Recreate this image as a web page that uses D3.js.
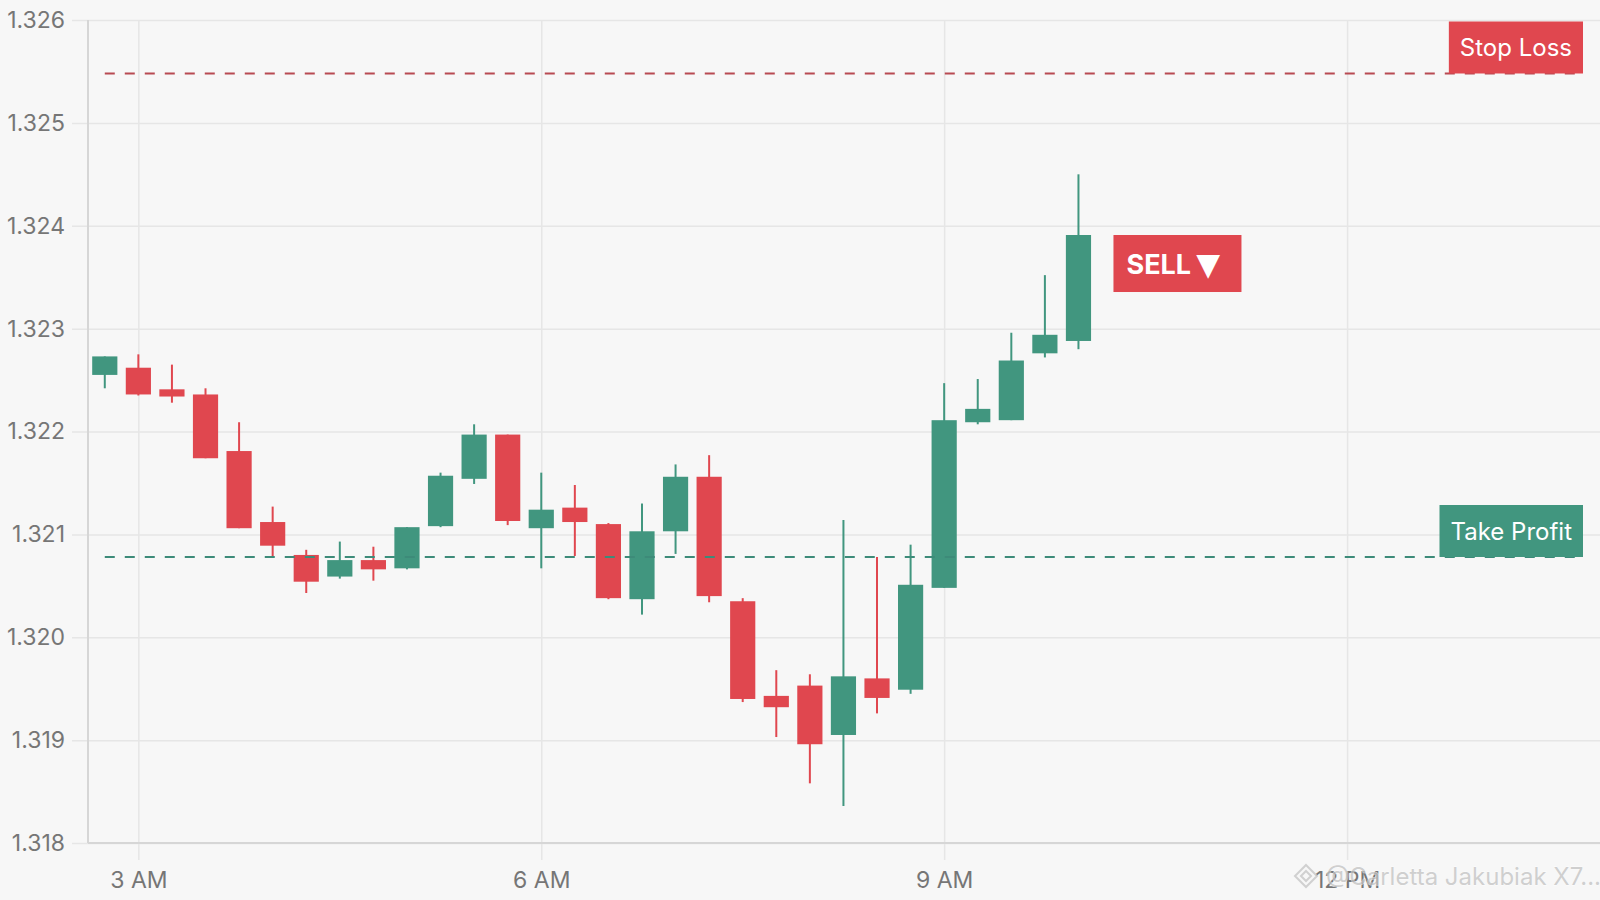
<!DOCTYPE html>
<html>
<head>
<meta charset="utf-8">
<script src="https://cdn.jsdelivr.net/npm/d3@7"></script>
<style>
  html, body { margin: 0; padding: 0; background: #f7f7f7; }
  svg { display: block; }
  text { font-family: Inter, "Noto Sans", "DejaVu Sans", sans-serif; }
</style>
</head>
<body>
<svg id="chart" width="1600" height="900"></svg>
<script>
// ---- data ----
const times  = ["02:45","03:00","03:15","03:30","03:45","04:00","04:15","04:30","04:45","05:00",
                "05:15","05:30","05:45","06:00","06:15","06:30","06:45","07:00","07:15","07:30",
                "07:45","08:00","08:15","08:30","08:45","09:00","09:15","09:30","09:45","10:00"];
const opens  = [1.32255,1.32262,1.32241,1.32236,1.32181,1.32112,1.32080,1.32059,1.32075,1.32067,
                1.32108,1.32154,1.32197,1.32106,1.32126,1.32110,1.32037,1.32103,1.32156,1.32035,
                1.31943,1.31953,1.31905,1.31960,1.31949,1.32048,1.32209,1.32211,1.32276,1.32288];
const highs  = [1.32273,1.32275,1.32265,1.32242,1.32209,1.32127,1.32085,1.32093,1.32088,1.32107,
                1.32160,1.32207,1.32197,1.32160,1.32148,1.32111,1.32130,1.32168,1.32177,1.32038,
                1.31968,1.31964,1.32114,1.32078,1.32090,1.32247,1.32251,1.32296,1.32352,1.32450];
const lows   = [1.32242,1.32235,1.32228,1.32174,1.32106,1.32078,1.32043,1.32057,1.32055,1.32066,
                1.32107,1.32149,1.32109,1.32067,1.32079,1.32037,1.32022,1.32081,1.32034,1.31937,
                1.31903,1.31858,1.31836,1.31926,1.31945,1.32048,1.32207,1.32211,1.32272,1.32280];
const closes = [1.32273,1.32236,1.32234,1.32174,1.32106,1.32089,1.32054,1.32075,1.32066,1.32107,
                1.32157,1.32197,1.32113,1.32124,1.32112,1.32038,1.32103,1.32156,1.32040,1.31940,
                1.31932,1.31896,1.31962,1.31941,1.32051,1.32211,1.32222,1.32269,1.32294,1.32391];
const yTicks = [1.318,1.319,1.320,1.321,1.322,1.323,1.324,1.325,1.326];
const stopLoss = 1.32548;
const takeProfit = 1.32078;
const labels = { stop: "Stop Loss", take: "Take Profit", signal: "SELL", arrow: "▼" };
const watermark = "@Carletta Jakubiak X7...";

// ---- setup ----
const W = 1600, H = 900;
const margin = { left: 88, right: 0, top: 20, bottom: 57 };
const green = "#41967f", red = "#e0474f";
const gridColor = "#e6e6e6", axisColor = "#d6d6d6", labelColor = "#767676";

const parse = d3.timeParse("%Y-%m-%d %H:%M:%S");
const candles = times.map((t, i) => ({
  t: parse("2024-01-01 " + t + ":00"), o: opens[i], h: highs[i], l: lows[i], c: closes[i]
}));

const x = d3.scaleTime()
  .domain([parse("2024-01-01 02:37:30"), parse("2024-01-01 13:53:00")])
  .range([margin.left, W - margin.right]);
const y = d3.scaleLinear().domain([1.318, 1.326]).range([H - margin.bottom, margin.top]);

const svg = d3.select("#chart");
svg.append("rect").attr("width", W).attr("height", H).attr("fill", "#f7f7f7");

// horizontal gridlines + y ticks
const yAxis = d3.axisLeft(y).tickValues(yTicks).tickFormat(d3.format(".3f"))
  .tickSize(-(W - margin.left)).tickSizeOuter(0).tickPadding(7);
const gy = svg.append("g").attr("transform", `translate(${margin.left},0)`).call(yAxis);
gy.select(".domain").remove();
gy.selectAll(".tick line").attr("stroke", gridColor).attr("stroke-width", 1.5).attr("x1", -16);
gy.selectAll(".tick text").attr("fill", labelColor).attr("font-size", 23).attr("x", -23)
  .attr("font-family", "Inter, sans-serif");

// vertical gridlines + x ticks
const xAxis = d3.axisBottom(x).ticks(d3.timeHour.every(3)).tickFormat(d3.timeFormat("%-I %p"))
  .tickSize(-(H - margin.bottom - margin.top)).tickSizeOuter(0).tickPadding(12);
const gx = svg.append("g").attr("transform", `translate(0,${H - margin.bottom})`).call(xAxis);
gx.select(".domain").remove();
gx.selectAll(".tick line").attr("stroke", gridColor).attr("stroke-width", 1.5).attr("y2", 17)
  .attr("y1", -(H - margin.bottom - margin.top));
gx.selectAll(".tick text").attr("fill", labelColor).attr("font-size", 23).attr("y", 29)
  .attr("font-family", "Inter, sans-serif");

// axis lines
svg.append("line").attr("x1", margin.left).attr("x2", margin.left)
  .attr("y1", margin.top).attr("y2", H - margin.bottom)
  .attr("stroke", axisColor).attr("stroke-width", 2);
svg.append("line").attr("x1", margin.left).attr("x2", W)
  .attr("y1", H - margin.bottom).attr("y2", H - margin.bottom)
  .attr("stroke", axisColor).attr("stroke-width", 2);

// candles
const step = x(candles[1].t) - x(candles[0].t);
const bw = step * 0.75;
const cg = svg.append("g");
const cs = cg.selectAll("g.c").data(candles).join("g").attr("class", "c");
cs.append("line")
  .attr("x1", d => x(d.t)).attr("x2", d => x(d.t))
  .attr("y1", d => y(d.h)).attr("y2", d => y(d.l))
  .attr("stroke", d => d.c >= d.o ? green : red).attr("stroke-width", 2);
cs.append("rect")
  .attr("x", d => x(d.t) - bw / 2).attr("width", bw)
  .attr("y", d => y(Math.max(d.o, d.c)))
  .attr("height", d => Math.max(1, Math.abs(y(d.o) - y(d.c))))
  .attr("fill", d => d.c >= d.o ? green : red);

// level lines + labels
const lineStart = x(candles[0].t);
const boxRight = W - 17;
function level(val, color, lineColor, text) {
  const yy = y(val);
  svg.append("line").attr("x1", lineStart).attr("x2", boxRight)
    .attr("y1", yy).attr("y2", yy).attr("stroke", lineColor).attr("stroke-width", 2)
    .attr("stroke-dasharray", "10,10");
  const t = svg.append("text").text(text).attr("font-size", 24).attr("fill", "#fff")
    .attr("text-anchor", "middle");
  const tw = t.node().getComputedTextLength();
  const bwid = tw + 22, bh = 52;
  svg.insert("rect", () => t.node())
    .attr("x", boxRight - bwid).attr("y", yy - bh).attr("width", bwid).attr("height", bh)
    .attr("fill", color);
  t.attr("x", boxRight - bwid / 2).attr("y", yy - bh / 2 + 8.5);
}
level(stopLoss, "#e0474f", "#b84a52", labels.stop);
level(takeProfit, "#41967f", "#3d8b79", labels.take);

// SELL signal near last candle
const last = candles[candles.length - 1];
const sx = x(last.t) + 35, sy = y(last.c);
svg.append("rect").attr("x", sx).attr("y", sy).attr("width", 128).attr("height", 57)
  .attr("fill", "#e0474f");
const st = svg.append("text").attr("x", sx + 13).attr("y", sy + 39)
  .attr("font-size", 27).attr("font-weight", 700).attr("fill", "#fff");
st.append("tspan").text(labels.signal);
st.append("tspan").text(" ").attr("font-size", 22);
st.append("tspan").text(labels.arrow).attr("font-family", "DejaVu Sans, sans-serif")
  .attr("font-size", 31).attr("dy", 1);

// watermark
const wm = svg.append("g").attr("opacity", 0.75);
const wx = 1293, wy = 885;
wm.append("path")
  .attr("d", `M${wx + 13},${wy - 20} l11,11 l-11,11 l-11,-11 z M${wx + 13},${wy - 14} l5,5 l-5,5 l-5,-5 z`)
  .attr("fill", "none").attr("stroke", "#c4c4c4").attr("stroke-width", 2);
wm.append("text").attr("x", 1326).attr("y", wy).text(watermark)
  .attr("font-size", 24).attr("fill", "#c2c2c2").attr("stroke", "#ffffff").attr("stroke-width", 0.8)
  .attr("paint-order", "stroke").attr("font-family", "Noto Sans, sans-serif");
</script>
</body>
</html>
